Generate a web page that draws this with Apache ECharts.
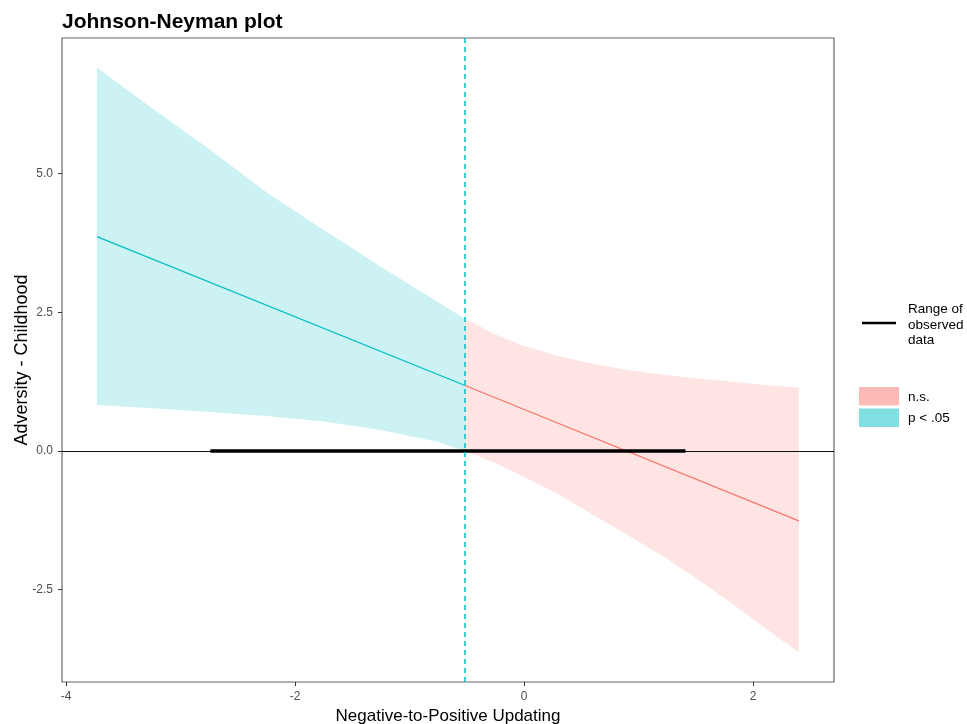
<!DOCTYPE html>
<html>
<head>
<meta charset="utf-8">
<script src="https://cdn.jsdelivr.net/npm/echarts@6/dist/echarts.min.js"></script>
<style>
html,body{margin:0;padding:0;background:#fff;}
#chart{width:967px;height:724px;}
</style>
</head>
<body>
<div id="chart"></div>
<script>
// ---- data ----
const xTicks = [-4, -2, 0, 2];
const yTicks = [-2.5, 0, 2.5, 5];
const jnPoint = -0.515;
const observedRange = [-2.74, 1.41];

// significant region (p < .05)
const sigX     = [-3.73, -3.25, -2.75, -2.25, -1.75, -1.25, -0.75, -0.515];
const sigUpper = [6.91, 6.18, 5.44, 4.66, 3.98, 3.32, 2.68, 2.38];
const sigLower = [0.83, 0.77, 0.70, 0.63, 0.53, 0.38, 0.16, 0.0];
const sigLineX = [-3.73, -0.515];
const sigLineY = [3.86, 1.18];

// non-significant region (n.s.)
const nsX     = [-0.515, -0.25, 0, 0.3, 0.6, 0.9, 1.2, 1.5, 1.8, 2.1, 2.4];
const nsUpper = [2.38, 2.10, 1.89, 1.71, 1.57, 1.46, 1.38, 1.31, 1.25, 1.19, 1.145];
const nsLower = [0.0, -0.22, -0.47, -0.78, -1.15, -1.51, -1.88, -2.29, -2.72, -3.18, -3.63];
const nsLineX = [-0.515, 2.4];
const nsLineY = [1.18, -1.26];

const CYAN = '#00BFC4';
const PINK = '#F8766D';

function bandSeries(xs, up, lo, color) {
  return {
    type: 'custom',
    silent: true,
    z: 1,
    data: [0],
    renderItem: function (params, api) {
      const pts = [];
      for (let i = 0; i < xs.length; i++) pts.push(api.coord([xs[i], up[i]]));
      for (let i = xs.length - 1; i >= 0; i--) pts.push(api.coord([xs[i], lo[i]]));
      return { type: 'polygon', shape: { points: pts, smooth: 0 }, style: { fill: color, opacity: 0.2 } };
    }
  };
}
function zip(a, b) { return a.map((v, i) => [v, b[i]]); }

const chart = echarts.init(document.getElementById('chart'), null, { renderer: 'canvas' });
const FONT = 'Liberation Sans, Arial, sans-serif';

chart.setOption({
  animation: false,
  backgroundColor: '#fff',
  title: {
    text: 'Johnson-Neyman plot',
    left: 57, top: 7,
    textStyle: { fontFamily: FONT, fontSize: 21, fontWeight: 'bold', color: '#000' }
  },
  grid: {
    left: 62, top: 38, width: 772, height: 644,
    containLabel: false, outerBoundsMode: 'none',
    show: true, borderColor: '#666', borderWidth: 1.2, backgroundColor: 'transparent'
  },
  xAxis: {
    type: 'value', min: -4.035, max: 2.707,
    name: 'Negative-to-Positive Updating', nameLocation: 'middle', nameGap: 26,
    nameTextStyle: { fontFamily: FONT, fontSize: 17, color: '#000' },
    axisLine: { show: false, onZero: false },
    axisTick: { show: true, length: 4, customValues: xTicks, lineStyle: { color: '#333' } },
    axisLabel: { customValues: xTicks, margin: 9, fontFamily: FONT, fontSize: 12, color: '#4D4D4D' },
    splitLine: { show: false }
  },
  yAxis: {
    type: 'value', min: -4.162, max: 7.44,
    name: 'Adversity - Childhood', nameLocation: 'middle', nameGap: 31, nameMoveOverlap: false,
    nameTextStyle: { fontFamily: FONT, fontSize: 18, color: '#000' },
    axisLine: { show: false, onZero: false },
    axisTick: { show: true, length: 4, customValues: yTicks, lineStyle: { color: '#333' } },
    axisLabel: { customValues: yTicks, margin: 9, fontFamily: FONT, fontSize: 12, color: '#4D4D4D',
      formatter: v => v.toFixed(1) },
    splitLine: { show: false }
  },
  series: [
    bandSeries(sigX, sigUpper, sigLower, CYAN),
    bandSeries(nsX, nsUpper, nsLower, PINK),
    { type: 'line', data: zip(sigLineX, sigLineY), symbol: 'none', z: 3, silent: true,
      lineStyle: { color: CYAN, width: 1.3 } },
    { type: 'line', data: zip(nsLineX, nsLineY), symbol: 'none', z: 3, silent: true,
      lineStyle: { color: PINK, width: 1.3 } },
    { type: 'line', data: [[observedRange[0], 0], [observedRange[1], 0]], symbol: 'none', z: 5, silent: true,
      lineStyle: { color: '#000', width: 3.5 },
      markLine: {
        silent: true, symbol: ['none', 'none'], label: { show: false }, z: 4,
        data: [{ yAxis: 0, lineStyle: { color: '#111', width: 1.2, type: 'solid' } }]
      }
    },
    { type: 'line', data: [], z: 6, silent: true,
      markLine: {
        silent: true, symbol: ['none', 'none'], label: { show: false }, z: 6,
        data: [{ xAxis: jnPoint, lineStyle: { color: CYAN, width: 1.5, type: [5, 4] } }]
      }
    }
  ],
  graphic: [
    { type: 'line', shape: { x1: 862, y1: 323, x2: 896, y2: 323 }, style: { stroke: '#000', lineWidth: 2.6 } },
    { type: 'text', left: 908, top: 302, style: { text: 'Range of\nobserved\ndata', font: '13.5px ' + FONT, fill: '#000', lineHeight: 15.5 } },
    { type: 'rect', shape: { x: 859, y: 387, width: 40, height: 18.5 }, style: { fill: 'rgba(248,118,109,0.5)' } },
    { type: 'rect', shape: { x: 859, y: 408.5, width: 40, height: 18.5 }, style: { fill: 'rgba(0,191,196,0.5)' } },
    { type: 'text', left: 908, top: 390, style: { text: 'n.s.', font: '13.5px ' + FONT, fill: '#000' } },
    { type: 'text', left: 908, top: 411, style: { text: 'p < .05', font: '13.5px ' + FONT, fill: '#000' } }
  ]
});
</script>
</body>
</html>
